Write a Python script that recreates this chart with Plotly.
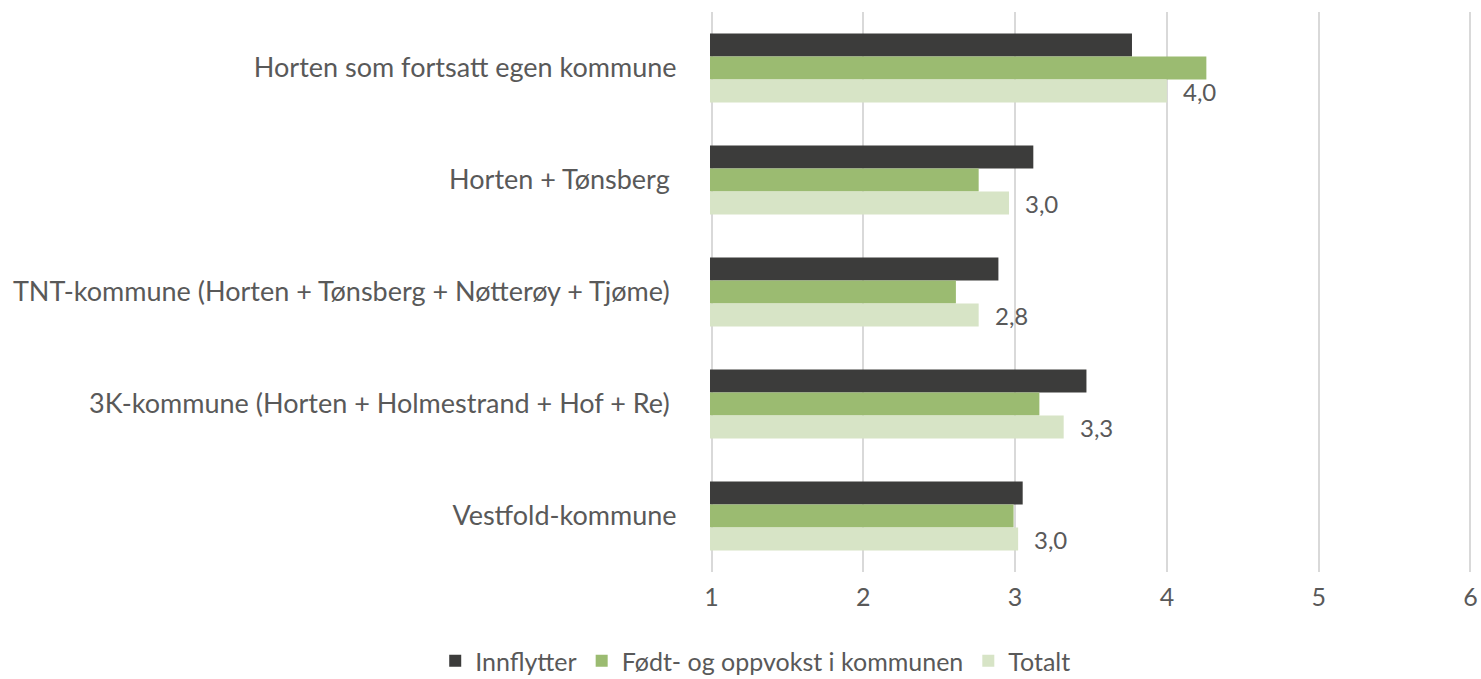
import plotly.graph_objects as go

categories = [
    "Horten som fortsatt egen kommune",
    "Horten + Tønsberg\u00a0",
    "TNT-kommune (Horten + Tønsberg + Nøtterøy + Tjøme)\u00a0",
    "3K-kommune (Horten + Holmestrand + Hof + Re)\u00a0",
    "Vestfold-kommune",
]
innflytter = [3.77, 3.12, 2.89, 3.47, 3.05]
fodt_oppvokst = [4.26, 2.76, 2.61, 3.16, 2.99]
totalt = [4.00, 2.96, 2.76, 3.32, 3.02]

series_names = ["Innflytter", "Født- og oppvokst i kommunen", "Totalt"]
colors = ["#3c3c3b", "#9bbb71", "#d7e4c6"]

FONT = "Lato"
GREY = "#595959"

fig = go.Figure()
for name, vals, col in zip(series_names, [innflytter, fodt_oppvokst, totalt], colors):
    fig.add_trace(go.Bar(
        name=name, y=categories, x=vals, base=0, orientation="h",
        marker=dict(color=col, line=dict(width=0)),
    ))

# value labels next to the Totalt bars
for cat, v in zip(categories, totalt):
    fig.add_annotation(
        x=v, y=cat, xref="x", yref="y", text=f"{v:.1f}".replace(".", ","),
        showarrow=False, xanchor="left", yanchor="middle",
        xshift=14, yshift=-23, font=dict(family=FONT, size=24, color=GREY),
    )

fig.update_layout(
    width=1481, height=679,
    margin=dict(l=710, r=9, t=12, b=107),
    paper_bgcolor="white", plot_bgcolor="white",
    barmode="group", bargap=0.384, bargroupgap=0,
    font=dict(family=FONT, color=GREY),
    xaxis=dict(
        range=[0.99, 6.01], tickvals=[1, 2, 3, 4, 5, 6], showgrid=True,
        gridcolor="#d9d9d9", gridwidth=1.5, zeroline=False, showline=False,
        tickfont=dict(family=FONT, size=25, color=GREY), automargin=False,
        ticks="outside", ticklen=3, tickcolor="rgba(0,0,0,0)",
    ),
    yaxis=dict(
        autorange="reversed", showgrid=False, showline=False, automargin=False,
        tickfont=dict(family=FONT, size=27, color=GREY),
        ticks="outside", ticklen=27, tickcolor="rgba(0,0,0,0)",
    ),
    legend=dict(
        orientation="h", x=0.06, xanchor="center",
        yref="container", y=(679 - 661) / 679, yanchor="middle",
        font=dict(family=FONT, size=25, color=GREY), itemwidth=30,
        traceorder="normal",
    ),
)

fig.write_html("out.html")
